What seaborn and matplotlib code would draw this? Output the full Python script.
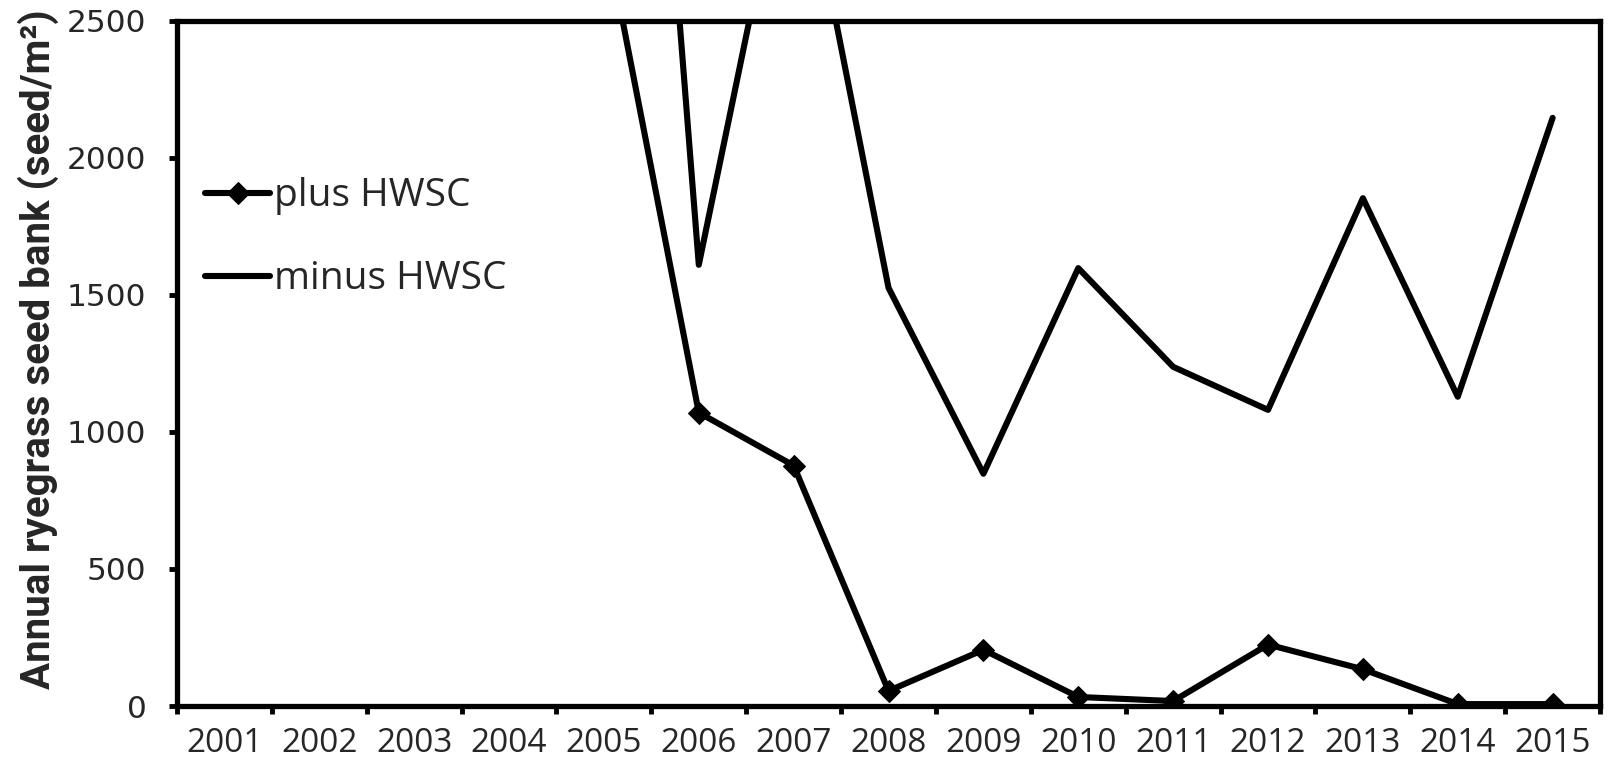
import numpy as np
import pandas as pd
import matplotlib
matplotlib.use('Agg')
import matplotlib.pyplot as plt
import seaborn as sns

# data (values above 2500 are clipped in the original)
years = [2001, 2002, 2003, 2004, 2005, 2006, 2007, 2008,
         2009, 2010, 2011, 2012, 2013, 2014, 2015]
plus_hwsc = [np.nan, np.nan, np.nan, np.nan, 2850, 1070, 877, 55,
             205, 33, 18, 224, 134, 7, 7]
minus_hwsc = [np.nan, np.nan, np.nan, np.nan, 6000, 1609, 3280, 1525,
              847, 1597, 1237, 1080, 1852, 1128, 2145]
y_ticks = [0, 500, 1000, 1500, 2000, 2500]

sns.set_theme(style='white')
plt.rcParams['font.family'] = ['Open Sans', 'DejaVu Sans']

df = pd.DataFrame({'year': years, 'plus HWSC': plus_hwsc, 'minus HWSC': minus_hwsc})

fig = plt.figure(figsize=(16.12, 7.71), dpi=100)
ax = fig.add_axes([0.1098, 0.0843, 0.8828, 0.8891])

lw = 4.4
sns.lineplot(data=df.dropna(subset=['plus HWSC']), x='year', y='plus HWSC',
             color='black', linewidth=lw, marker='D', markersize=11,
             markeredgecolor='black', label='plus HWSC', ax=ax)
sns.lineplot(data=df.dropna(subset=['minus HWSC']), x='year', y='minus HWSC',
             color='black', linewidth=lw, label='minus HWSC', ax=ax)

ax.set_xlim(years[0] - 0.5, years[-1] + 0.5)
ax.set_ylim(0, 2500)

# category labels at centres, tick marks at category boundaries
ax.set_xticks(years)
ax.set_xticklabels([str(y) for y in years], fontsize=24)
ax.set_xticks([y - 0.5 for y in years] + [years[-1] + 0.5], minor=True)
ax.tick_params(axis='x', which='major', length=0, pad=15)
ax.tick_params(axis='x', which='minor', bottom=True, length=6, width=3.5,
               direction='out', color='black')

ax.set_yticks(y_ticks)
ax.set_yticklabels([str(v) for v in y_ticks], fontsize=22.5,
                   family=['DejaVu Sans'])
ax.tick_params(axis='y', which='major', left=True, length=6, width=3.5,
               direction='out', color='black', pad=16)

for side in ['left', 'right', 'top', 'bottom']:
    ax.spines[side].set_visible(True)
    ax.spines[side].set_color('black')
    ax.spines[side].set_linewidth(3.8)

ax.set_xlabel('')
ax.set_ylabel('Annual ryegrass seed bank (seed/m\u00b2)', fontsize=29,
              fontweight='bold', family=['Roboto', 'DejaVu Sans'])
ax.yaxis.set_label_coords(-0.083, 0.52)

leg = ax.legend(loc='center left', bbox_to_anchor=(0.02, 0.683), frameon=False,
                fontsize=28, handlelength=1.65, handletextpad=0.1,
                labelspacing=1.15, borderpad=0, borderaxespad=0)

ax.grid(False)
fig.savefig('out.png', dpi=100)
